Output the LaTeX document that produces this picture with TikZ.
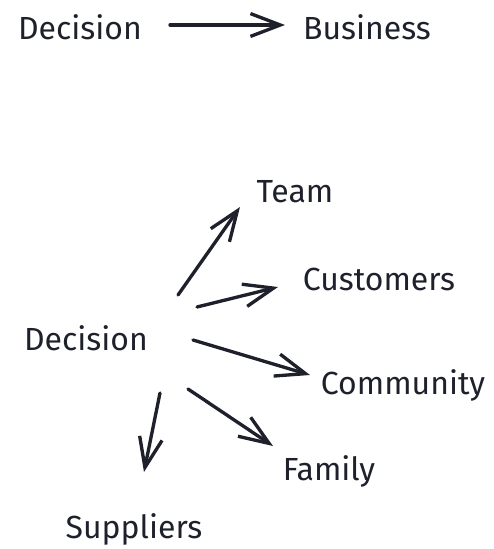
\documentclass[tikz,border=0pt]{standalone}
\usepackage{fontspec}
\setmainfont{Fira Sans}
\usepackage{xcolor}
\usetikzlibrary{arrows.meta, calc}
\definecolor{ink}{RGB}{30, 33, 44}

\begin{document}
\begin{tikzpicture}[
    x=0.02cm, y=-0.02cm,
    word/.style={anchor=base, inner sep=0pt, text=ink,
                 font=\fontsize{18.2}{21}\selectfont},
    arrow/.style={draw=ink, line width=1.9pt, line cap=round, line join=round,
                  -{Straight Barb[length=17pt, width=13pt, line width=1.9pt]}}
]
\useasboundingbox (0,0) rectangle (494,549);

%% -- one decision, one place -------------------------------------------------
\node[word] (dec1) at (80,39)  {Decision};
\node[word] (bus)  at (367,39) {Business};
\draw[arrow] ($(dec1.base)+(90,-14)$) -- ($(bus.base)+(-82,-14)$);

%% -- one decision, many people -----------------------------------------------
\node[word] (dec2) at (86,350)  {Decision};
\node[word] (team) at (295,202) {Team};
\node[word] (cust) at (379,290) {Customers};
\node[word] (comm) at (403,394) {Community};
\node[word] (fam)  at (329,480) {Family};
\node[word] (supp) at (134,538) {Suppliers};

\draw[arrow] ($(dec2.base)+(92,-55)$)  -- ($(team.base)+(-55,5)$);
\draw[arrow] ($(dec2.base)+(111,-43)$) -- ($(cust.base)+(-101,-3)$);
\draw[arrow] ($(dec2.base)+(107,-10)$) -- ($(comm.base)+(-93,-19)$);
\draw[arrow] ($(dec2.base)+(102,39)$)  -- ($(fam.base)+(-56,-34)$);
\draw[arrow] ($(dec2.base)+(74,43)$)   -- ($(supp.base)+(10,-66)$);

\end{tikzpicture}
\end{document}
